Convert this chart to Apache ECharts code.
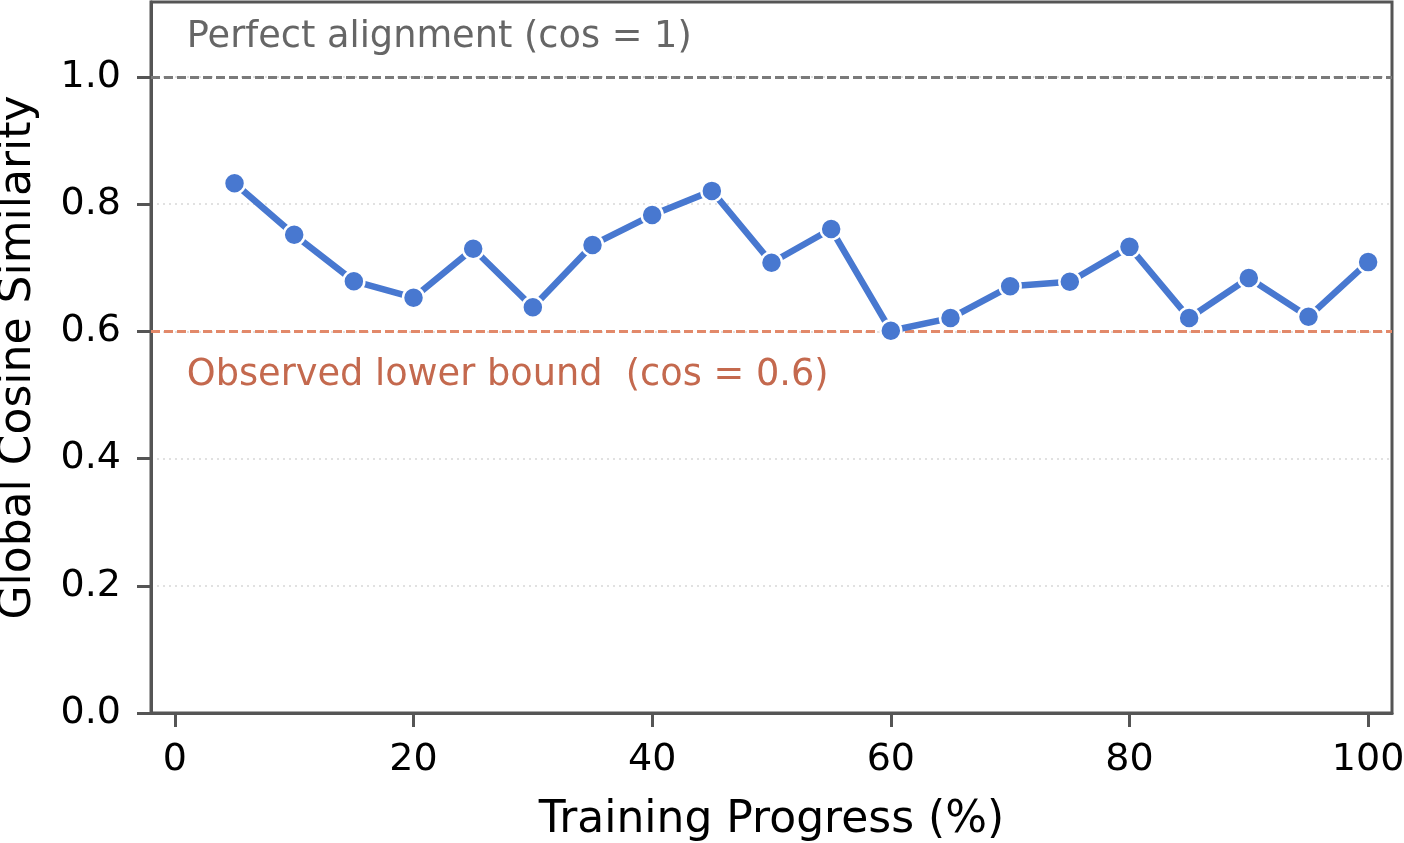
<!DOCTYPE html>
<html>
<head>
<meta charset="utf-8">
<script src="https://cdn.jsdelivr.net/npm/echarts@6/dist/echarts.min.js"></script>
<style>
  html, body { margin: 0; padding: 0; background: #fff; }
  #main { width: 1404px; height: 843px; }
</style>
</head>
<body>
<div id="main"></div>
<script>
// progress (%) and measured global cosine similarity
var progress = [5, 10, 15, 20, 25, 30, 35, 40, 45, 50, 55, 60, 65, 70, 75, 80, 85, 90, 95, 100];
var cosSim = [0.833, 0.752, 0.679, 0.653, 0.730, 0.638, 0.736, 0.783, 0.821, 0.708,
              0.761, 0.601, 0.621, 0.671, 0.678, 0.733, 0.621, 0.684, 0.623, 0.709];
var xTicks = [0, 20, 40, 60, 80, 100];
var yTicks = [0, 0.2, 0.4, 0.6, 0.8, 1.0];
var perfectLine = 1.0;
var lowerBound = 0.6;

var font = 'DejaVu Sans';
var spine = '#555555';
var chart = echarts.init(document.getElementById('main'));

var option = {
  animation: false,
  grid: {
    left: 151, right: 12, top: 2, bottom: 130,
    outerBoundsMode: 'none',
    show: true, borderColor: spine, borderWidth: 3, backgroundColor: '#fff'
  },
  xAxis: {
    type: 'value',
    min: -2, max: 102,
    name: 'Training Progress (%)',
    nameLocation: 'middle',
    nameGap: 86,
    nameTextStyle: { fontFamily: font, fontSize: 44, color: '#000' },
    axisLine: { show: true, lineStyle: { color: spine, width: 3 } },
    axisTick: { show: true, customValues: xTicks, length: 14, lineStyle: { color: spine, width: 3 } },
    axisLabel: { customValues: xTicks, fontFamily: font, fontSize: 38, color: '#000', margin: 28 },
    splitLine: { show: false }
  },
  yAxis: {
    type: 'value',
    min: 0, max: 1.118,
    name: 'Global Cosine Similarity',
    nameLocation: 'middle',
    nameGap: 110,
    nameTextStyle: { fontFamily: font, fontSize: 44, color: '#000' },
    axisLine: { show: true, onZero: false, lineStyle: { color: spine, width: 3 } },
    axisTick: { show: true, customValues: yTicks, length: 14, lineStyle: { color: spine, width: 3 } },
    axisLabel: {
      customValues: yTicks, fontFamily: font, fontSize: 38, color: '#000', margin: 30,
      formatter: function (v) { return v.toFixed(1); }
    },
    splitLine: {
      show: true,
      customValues: yTicks,
      lineStyle: { color: '#d8d8d8', type: [2, 4], width: 1.5 }
    }
  },
  series: [{
    type: 'line',
    data: progress.map(function (p, i) { return [p, cosSim[i]]; }),
    symbol: 'circle',
    symbolSize: 21,
    lineStyle: { color: '#4878d0', width: 6.5 },
    itemStyle: { color: '#4878d0', borderColor: '#fff', borderWidth: 2.5 },
    z: 5,
    markLine: {
      silent: true,
      symbol: 'none',
      label: { show: false },
      data: [
        { yAxis: perfectLine, lineStyle: { color: '#7a7a7a', type: [9, 4], width: 3 } },
        { yAxis: lowerBound, lineStyle: { color: '#e2896a', type: [9, 4], width: 3 } }
      ],
      z: 2
    }
  }]
};
chart.setOption(option);

// annotations anchored in data coordinates
var p1 = chart.convertToPixel({ gridIndex: 0 }, [1, perfectLine + 0.0615]);
var p2 = chart.convertToPixel({ gridIndex: 0 }, [1, lowerBound - 0.069]);
chart.setOption({
  graphic: [
    { type: 'text', x: p1[0], y: p1[1], z: 10,
      style: { text: 'Perfect alignment (cos = 1)', fontFamily: font, fontSize: 36.7,
               fill: '#666666', textVerticalAlign: 'middle' } },
    { type: 'text', x: p2[0], y: p2[1], z: 10,
      style: { text: 'Observed lower bound  (cos = 0.6)', fontFamily: font, fontSize: 36.7,
               fill: '#c4694e', textVerticalAlign: 'middle' } }
  ]
});
</script>
</body>
</html>
